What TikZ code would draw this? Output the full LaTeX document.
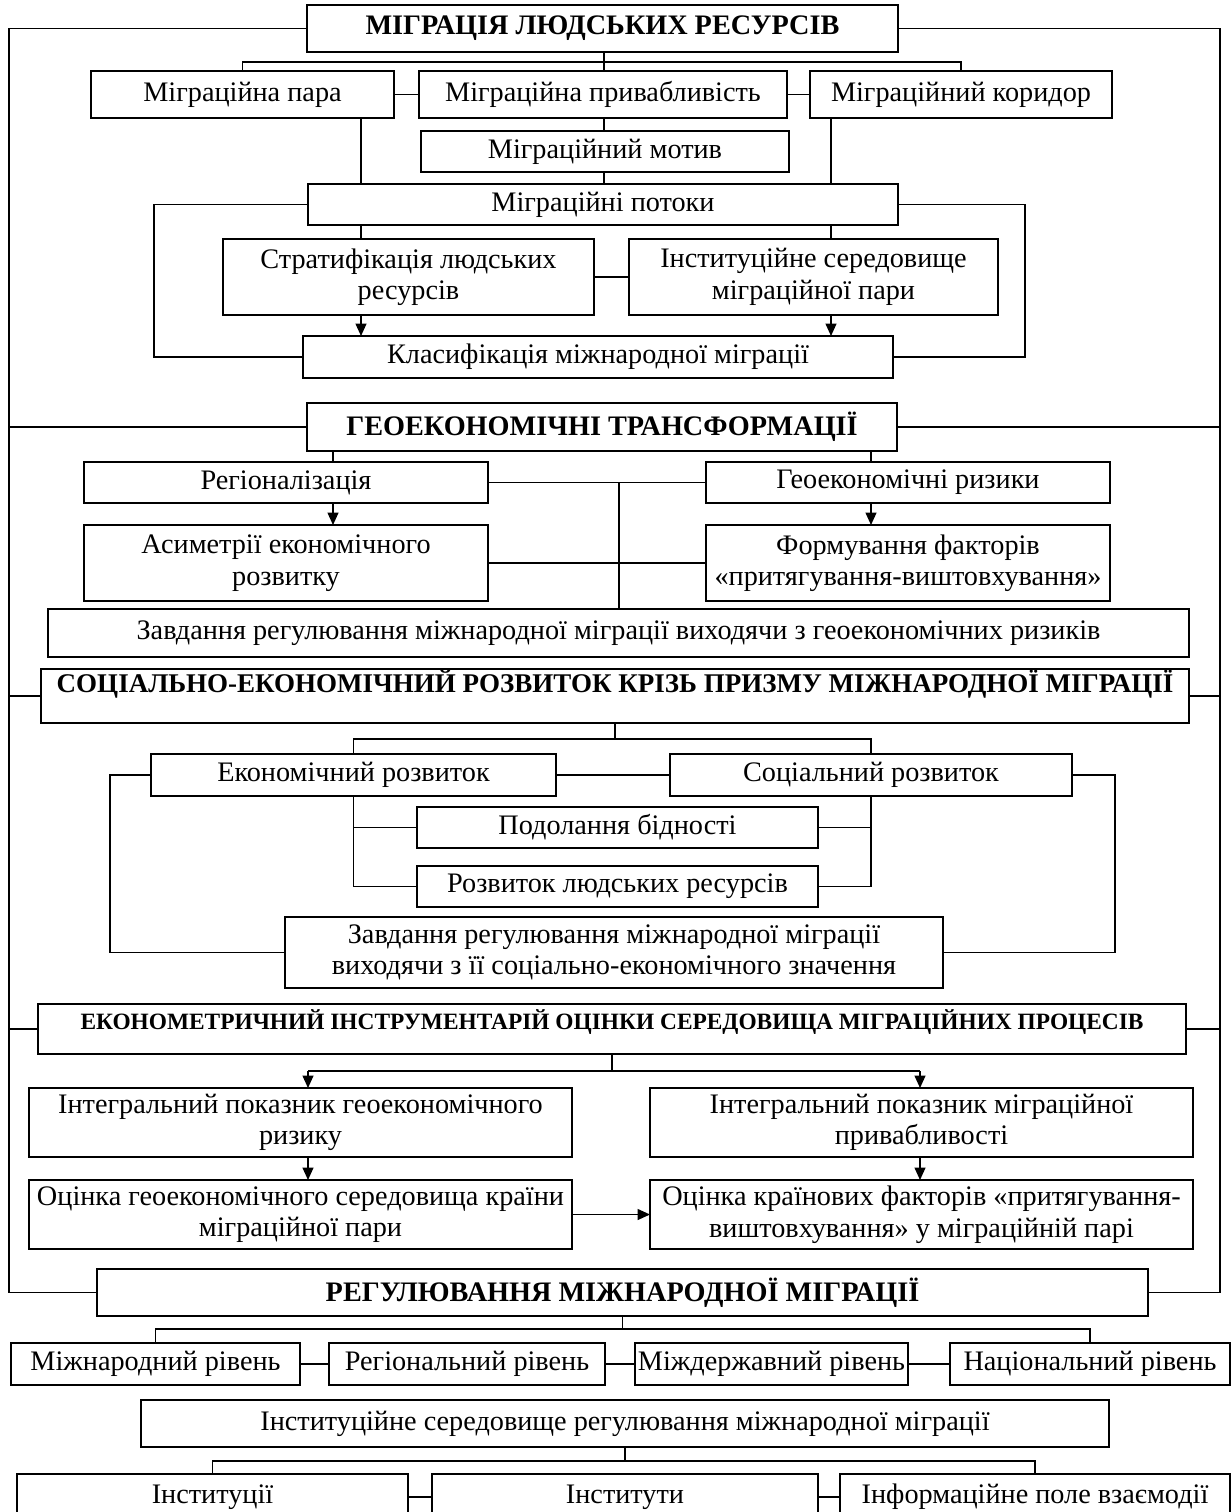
\documentclass[tikz,border=0pt]{standalone}
\usepackage{fontspec}
\setmainfont{Liberation Serif}
\usetikzlibrary{arrows.meta}
\newcommand\fn{\fontsize{11.3}{12.6}\selectfont}
\newcommand\fb{\fontsize{11.3}{12.6}\selectfont\bfseries}
\newcommand\fbs{\fontsize{10.8}{12}\selectfont\bfseries}
\newcommand\fsm{\fontsize{9.35}{11}\selectfont\bfseries}
\newcommand\bx[7][]{\node[box,minimum width={(#5-#3)*0.4pt},minimum height={(#6-#4)*0.4pt},#1] (#2) at ({(#3+#5)/2},{(#4+#6)/2}) {#7};}
\begin{document}
\begin{tikzpicture}[x=0.4pt,y=-0.4pt,line width=0.6pt,
  box/.style={draw,inner sep=0pt,outer sep=0pt,align=center,font=\fn},
  arr/.style={-{Triangle[length=5pt,width=4.4pt]}}]
\useasboundingbox (0,0) rectangle (1232,1512);
% column and bus coordinates
\coordinate (xL) at (9,0); \coordinate (xR) at (1220,0);
\coordinate (c604) at (604,0);
\coordinate (c361) at (361,0); \coordinate (c831) at (831,0);
\coordinate (c154) at (154,0); \coordinate (c1025) at (1025,0);
\coordinate (c333) at (333,0); \coordinate (c871) at (871,0);
\coordinate (c619) at (619,0);
\coordinate (c110) at (110,0); \coordinate (c1115) at (1115,0);
\coordinate (c308) at (308,0); \coordinate (c920) at (920,0);
\coordinate (b1) at (0,62); \coordinate (b3) at (0,739);
\coordinate (b4) at (0,1071); \coordinate (b5) at (0,1329);
\coordinate (b6) at (0,1461);
% nodes
\bx[font=\fb]{h1}{307}{5}{898}{52}{МІГРАЦІЯ ЛЮДСЬКИХ РЕСУРСІВ}
\bx{para}{91}{71}{394}{118}{Міграційна пара}
\bx{prv}{419}{71}{787}{118}{Міграційна привабливість}
\bx{kor}{810}{71}{1112}{118}{Міграційний коридор}
\bx{mot}{421}{131}{789}{172}{Міграційний мотив}
\bx{pot}{308}{184}{898}{225}{Міграційні потоки}
\bx{strat}{223}{239}{594}{315}{Стратифікація людських\\ресурсів}
\bx{inst}{629}{239}{998}{315}{Інституційне середовище\\міграційної пари}
\bx{kl}{303}{336}{893}{378}{Класифікація міжнародної міграції}
\bx[font=\fb]{h2}{307}{403}{897}{451}{ГЕОЕКОНОМІЧНІ ТРАНСФОРМАЦІЇ}
\bx{rg}{84}{462}{488}{503}{Регіоналізація}
\bx{rz}{706}{462}{1110}{503}{Геоекономічні ризики}
\bx{as}{84}{525}{488}{601}{Асиметрії економічного\\розвитку}
\bx{fm}{706}{525}{1110}{601}{Формування факторів\\«притягування-виштовхування»}
\bx{zg}{48}{609}{1189}{657}{Завдання регулювання міжнародної міграції виходячи з геоекономічних ризиків}
\bx[font=\fbs,text height=9.2pt,text depth=12.4pt]{h3}{41}{669}{1189}{723}{СОЦІАЛЬНО-ЕКОНОМІЧНИЙ РОЗВИТОК КРІЗЬ ПРИЗМУ МІЖНАРОДНОЇ МІГРАЦІЇ}
\bx{eko}{151}{754}{556}{796}{Економічний розвиток}
\bx{soc}{670}{754}{1072}{796}{Соціальний розвиток}
\bx{pod}{417}{807}{818}{848}{Подолання бідності}
\bx{rlr}{417}{866}{818}{907}{Розвиток людських ресурсів}
\bx{zs}{285}{917}{943}{988}{Завдання регулювання міжнародної міграції\\виходячи з її соціально-економічного значення}
\bx[font=\fsm,text height=10pt,text depth=10pt]{h4}{38}{1004}{1186}{1054}{ЕКОНОМЕТРИЧНИЙ ІНСТРУМЕНТАРІЙ ОЦІНКИ СЕРЕДОВИЩА МІГРАЦІЙНИХ ПРОЦЕСІВ}
\bx{ig}{29}{1088}{572}{1157}{Інтегральний показник геоекономічного\\ризику}
\bx{im}{650}{1088}{1193}{1157}{Інтегральний показник міграційної\\привабливості}
\bx{og}{29}{1180}{572}{1249}{Оцінка геоекономічного середовища країни\\міграційної пари}
\bx{ok}{650}{1180}{1193}{1249}{Оцінка країнових факторів «притягування-\\виштовхування» у міграційній парі}
\bx[font=\fb]{h5}{97}{1269}{1148}{1316}{РЕГУЛЮВАННЯ МІЖНАРОДНОЇ МІГРАЦІЇ}
\bx{lv1}{11}{1343}{300}{1385}{Міжнародний рівень}
\bx{lv2}{329}{1343}{605}{1385}{Регіональний рівень}
\bx{lv3}{635}{1343}{908}{1385}{Міждержавний рівень}
\bx{lv4}{950}{1343}{1230}{1385}{Національний рівень}
\bx{ise}{141}{1400}{1109}{1447}{Інституційне середовище регулювання міжнародної міграції}
\bx{in1}{17}{1474}{408}{1520}{Інституції}
\bx{in2}{432}{1474}{818}{1520}{Інститути}
\bx{in3}{840}{1474}{1230}{1520}{Інформаційне поле взаємодії}
% outer frame lines
\draw (h1.west) -- (h1.west -| xL) -- (h5.west -| xL) -- (h5.west);
\draw (h1.east) -- (h1.east -| xR) -- (h5.east -| xR) -- (h5.east);
\foreach \h in {h2,h3,h4} {\draw (\h.west) -- (\h.west -| xL); \draw (\h.east) -- (\h.east -| xR);}
% section 1
\draw (h1.south -| c604) -- (b1 -| c604);
\draw (para.north) -- (para.north |- b1) -- (kor.north |- b1) -- (kor.north);
\draw (prv.north -| c604) -- (b1 -| c604);
\draw (para.east) -- (prv.west);
\draw (prv.east) -- (kor.west);
\draw (prv.south -| c604) -- (mot.north -| c604);
\draw (mot.south -| c604) -- (pot.north -| c604);
\draw (para.south -| c361) -- (pot.north -| c361);
\draw (kor.south -| c831) -- (pot.north -| c831);
\draw (pot.south -| c361) -- (strat.north -| c361);
\draw (pot.south -| c831) -- (inst.north -| c831);
\draw (strat.east) -- (inst.west);
\draw[arr] (strat.south -| c361) -- (kl.north -| c361);
\draw[arr] (inst.south -| c831) -- (kl.north -| c831);
\draw (pot.west) -- (pot.west -| c154) -- (kl.west -| c154) -- (kl.west);
\draw (pot.east) -- (pot.east -| c1025) -- (kl.east -| c1025) -- (kl.east);
% section 2
\draw (h2.south -| c333) -- (rg.north -| c333);
\draw (h2.south -| c871) -- (rz.north -| c871);
\draw[arr] (rg.south -| c333) -- (as.north -| c333);
\draw[arr] (rz.south -| c871) -- (fm.north -| c871);
\draw (rg.east) -- (rz.west);
\draw (as.east) -- (fm.west);
\draw (rg.east -| c619) -- (zg.north -| c619);
% section 3
\draw (h3.south) -- (h3.south |- b3);
\draw (eko.north) -- (eko.north |- b3) -- (soc.north |- b3) -- (soc.north);
\draw (eko.east) -- (soc.west);
\draw (eko.south) -- (eko.south |- rlr.west) -- (rlr.west);
\draw (eko.south |- pod.west) -- (pod.west);
\draw (soc.south) -- (soc.south |- rlr.east) -- (rlr.east);
\draw (soc.south |- pod.east) -- (pod.east);
\draw (eko.west) -- (eko.west -| c110) -- (zs.west -| c110) -- (zs.west);
\draw (soc.east) -- (soc.east -| c1115) -- (zs.east -| c1115) -- (zs.east);
% section 4
\draw (h4.south) -- (h4.south |- b4);
\draw (b4 -| c308) -- (b4 -| c920);
\draw[arr] (b4 -| c308) -- (ig.north -| c308);
\draw[arr] (b4 -| c920) -- (im.north -| c920);
\draw[arr] (ig.south -| c308) -- (og.north -| c308);
\draw[arr] (im.south -| c920) -- (ok.north -| c920);
\draw[arr] (og.east) -- (ok.west);
% section 5
\draw (h5.south) -- (h5.south |- b5);
\draw (lv1.north) -- (lv1.north |- b5) -- (lv4.north |- b5) -- (lv4.north);
\draw (lv1.east) -- (lv2.west);
\draw (lv2.east) -- (lv3.west);
\draw (lv3.east) -- (lv4.west);
\draw (ise.south) -- (ise.south |- b6);
\draw (in1.north) -- (in1.north |- b6) -- (in3.north |- b6) -- (in3.north);
\draw (in1.east) -- (in2.west);
\draw (in2.east) -- (in3.west);
\end{tikzpicture}
\end{document}
